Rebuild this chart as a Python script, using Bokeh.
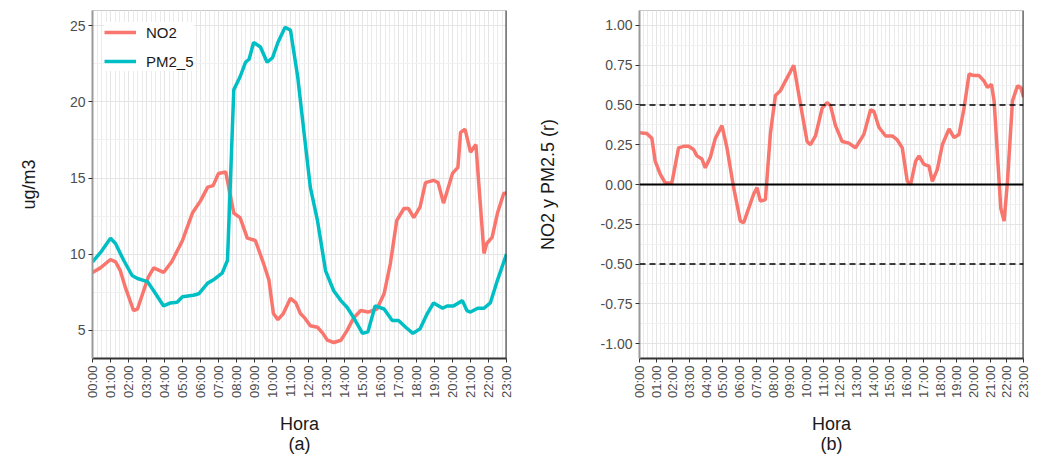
from bokeh.plotting import figure
from bokeh.layouts import row
from bokeh.models import FixedTicker, Legend, LegendItem, Span, NumeralTickFormatter
from bokeh.embed import file_html
from bokeh.resources import INLINE

# ---- data (hours as decimal) ----
hour_labels = ["%02d:00" % h for h in range(24)]

no2_hours = [0, 0.44, 1.0, 1.28, 1.55, 1.83, 2.28, 2.5, 2.84, 3.1, 3.4, 3.95, 4.4, 5.0, 5.55, 6.0,
             6.4, 6.7, 7.0, 7.4, 7.85, 8.2, 8.6, 9.05, 9.5, 9.8, 10.05, 10.3, 10.6, 11.0, 11.3,
             11.55, 11.8, 12.1, 12.5, 12.8, 13.05, 13.4, 13.8, 14.15, 14.5, 14.9, 15.3, 15.8,
             16.2, 16.55, 16.9, 17.3, 17.55, 17.85, 18.2, 18.5, 18.95, 19.2, 19.5, 20.0, 20.3,
             20.45, 20.7, 21.0, 21.3, 21.75, 21.9, 22.2, 22.5, 22.85, 23.0]
no2_values = [8.8, 9.1, 9.65, 9.5, 8.9, 7.8, 6.3, 6.4, 7.6, 8.5, 9.1, 8.8, 9.5, 10.9, 12.7, 13.5,
              14.4, 14.5, 15.3, 15.4, 12.7, 12.4, 11.05, 10.9, 9.4, 8.3, 6.1, 5.7, 6.1, 7.1, 6.8,
              6.1, 5.8, 5.3, 5.2, 4.8, 4.35, 4.2, 4.35, 5.0, 5.8, 6.3, 6.2, 6.4,
              7.4, 9.4, 12.2, 13.0, 13.0, 12.4, 13.1, 14.7, 14.85, 14.7, 13.35, 15.3, 15.7,
              18.0, 18.2, 16.7, 17.2, 10.05, 10.7, 11.1, 12.7, 14.0, 14.0]

pm_hours = [0, 0.44, 1.0, 1.28, 1.73, 2.2, 2.5, 3.05, 3.4, 3.95, 4.33, 4.7, 5.0, 5.6, 5.9, 6.4,
            6.7, 7.2, 7.5, 7.85, 8.2, 8.5, 8.7, 8.95, 9.33, 9.7, 10.0, 10.3, 10.7, 11.0, 11.4,
            11.75, 12.1, 12.5, 12.95, 13.4, 13.8, 14.15, 14.5, 15.0, 15.3, 15.7, 16.2, 16.65,
            17.0, 17.4, 17.8, 18.2, 18.6, 18.95, 19.45, 19.7, 20.05, 20.55, 20.8, 21.0, 21.4,
            21.75, 22.1, 22.5, 23.0]
pm_values = [9.5, 10.1, 11.05, 10.7, 9.6, 8.6, 8.4, 8.2, 7.6, 6.6, 6.8, 6.85, 7.2, 7.3, 7.4, 8.1,
             8.3, 8.75, 9.6, 20.8, 21.65, 22.6, 22.8, 23.9, 23.6, 22.6, 22.9, 23.9, 24.9, 24.7, 21.65,
             18.0, 14.4, 12.2, 8.9, 7.6, 6.95, 6.5, 5.85, 4.8, 4.9, 6.6, 6.4, 5.65,
             5.65, 5.2, 4.8, 5.1, 6.1, 6.8, 6.45, 6.6, 6.6, 6.95, 6.3, 6.2, 6.45,
             6.45, 6.8, 8.3, 10.0]

r_hours = [0, 0.44, 0.74, 0.94, 1.24, 1.54, 1.94, 2.34, 2.64, 2.94, 3.24, 3.44, 3.74, 3.94, 4.24,
           4.54, 4.94, 5.24, 5.64, 6.04, 6.24, 6.84, 7.04, 7.24, 7.54, 7.84, 8.14, 8.44, 8.84,
           9.24, 9.64, 10.04, 10.24, 10.54, 10.94, 11.24, 11.44, 11.74, 12.14, 12.54, 12.94,
           13.44, 13.84, 14.04, 14.34, 14.74, 15.14, 15.44, 15.74, 16.04, 16.24, 16.54, 16.74,
           17.04, 17.34, 17.54, 17.84, 18.14, 18.54, 18.84, 19.14, 19.44, 19.74, 20.04, 20.34,
           20.64, 20.84, 21.08, 21.24, 21.64, 21.84, 22.04, 22.34, 22.64, 22.84, 23.0]
r_values = [0.326, 0.32, 0.29, 0.147, 0.065, 0.01, 0.01, 0.23, 0.24, 0.24, 0.22, 0.18, 0.16, 0.105, 0.17,
            0.29, 0.37, 0.23, -0.02, -0.23, -0.24, -0.06, -0.02, -0.105, -0.095, 0.32, 0.56, 0.59, 0.67,
            0.75, 0.505, 0.27, 0.25, 0.305, 0.48, 0.515, 0.495, 0.37, 0.27, 0.26, 0.23,
            0.315, 0.47, 0.46, 0.36, 0.305, 0.305, 0.28, 0.23, 0.02, 0.0, 0.147, 0.18,
            0.126, 0.115, 0.02, 0.095, 0.25, 0.35, 0.295, 0.315, 0.48, 0.695, 0.685, 0.685,
            0.65, 0.61, 0.63, 0.525, -0.15, -0.23, 0.02, 0.525, 0.62, 0.61, 0.55]

left_ticks = [5, 10, 15, 20, 25]
right_ticks = [-1.0, -0.75, -0.5, -0.25, 0.0, 0.25, 0.5, 0.75, 1.0]

RED = "#F8766D"
TEAL = "#00BFC4"
FONT = "Liberation Sans"
GRID = "#E4E4E4"
MINOR_X = "#EBEBEB"
MINOR_Y = "#F1F1F1"


def style(p, yticks, ylabel, panel):
    xt = FixedTicker(ticks=list(range(24)), minor_ticks=[h / 4 for h in range(93)])
    p.xaxis.ticker = xt
    p.xaxis.major_label_overrides = {i: lab for i, lab in enumerate(hour_labels)}
    p.xaxis.major_label_orientation = 1.5708
    mids = [(a + b) / 2 for a, b in zip(yticks[:-1], yticks[1:])]
    step = yticks[1] - yticks[0]
    mids = [yticks[0] - step / 2] + mids + [yticks[-1] + step / 2]
    p.yaxis.ticker = FixedTicker(ticks=yticks, minor_ticks=mids)
    for ax in (p.xaxis[0], p.yaxis[0]):
        ax.major_label_text_font = FONT
        ax.major_label_text_color = "#4D4D4D"
        ax.axis_label_text_font = FONT
        ax.axis_label_text_font_size = "18px"
        ax.axis_label_text_font_style = "normal"
        ax.axis_label_text_color = "#1A1A1A"
        ax.major_tick_line_color = "#333333"
        ax.major_tick_in = 0
        ax.major_tick_out = 4
        ax.minor_tick_line_color = None
        ax.major_label_standoff = 3
    p.xaxis.major_label_text_font_size = "13px"
    p.yaxis.major_label_text_font_size = "14px"
    p.xaxis.axis_line_color = "#333333"
    p.xaxis.axis_line_width = 2
    p.yaxis.axis_line_color = "#9A9A9A"
    p.yaxis.axis_line_width = 2
    p.xaxis.axis_label = "Hora\n" + panel
    p.xaxis.axis_label_standoff = 13
    p.xaxis.axis_label_text_line_height = 1.0
    p.yaxis.axis_label = ylabel
    p.xgrid.grid_line_color = GRID
    p.ygrid.grid_line_color = GRID
    p.xgrid.minor_grid_line_color = MINOR_X
    p.ygrid.minor_grid_line_color = MINOR_Y
    p.outline_line_color = "#C8C8C8"
    p.add_layout(Span(location=23, dimension="height", line_color="#333333", line_width=2))
    p.background_fill_color = "white"
    p.border_fill_color = "white"


p1 = figure(frame_width=414, frame_height=348, x_range=(0, 23), y_range=(3.15, 26.0),
            output_backend="svg", toolbar_location=None,
            min_border_left=92, min_border_top=10, min_border_right=22, min_border_bottom=0)
style(p1, left_ticks, "ug/m3", "(a)")
p1.yaxis.formatter = NumeralTickFormatter(format="0")
p1.yaxis.axis_label_standoff = 28
r1 = p1.line(no2_hours, no2_values, line_color=RED, line_width=3.5)
r2 = p1.line(pm_hours, pm_values, line_color=TEAL, line_width=3.5)
leg = Legend(items=[LegendItem(label="NO2", renderers=[r1]), LegendItem(label="PM2_5", renderers=[r2])],
             location="top_left", padding=10, spacing=9, label_height=20, glyph_height=20,
             glyph_width=32, label_standoff=10, label_text_font=FONT, label_text_font_size="15px",
             label_text_color="#1A1A1A", border_line_color=None, background_fill_color="white",
             background_fill_alpha=1.0, margin=12)
p1.add_layout(leg, "center")

p2 = figure(frame_width=384, frame_height=348, x_range=(0, 23), y_range=(-1.094, 1.094),
            output_backend="svg", toolbar_location=None,
            min_border_left=111, min_border_top=10, min_border_right=8, min_border_bottom=0)
style(p2, right_ticks, "NO2 y PM2.5 (r)", "(b)")
p2.yaxis.formatter = NumeralTickFormatter(format="0.00")
p2.yaxis.axis_label_standoff = 40
p2.add_layout(Span(location=0.5, dimension="width", line_color="#000000", line_width=1.4, line_dash="6 4"))
p2.add_layout(Span(location=-0.5, dimension="width", line_color="#000000", line_width=1.4, line_dash="6 4"))
p2.add_layout(Span(location=0.0, dimension="width", line_color="#000000", line_width=1.8))
p2.line(r_hours, r_values, line_color=RED, line_width=3.5)

layout = row(p1, p2)
open("out.html", "w").write(file_html(layout, INLINE))
